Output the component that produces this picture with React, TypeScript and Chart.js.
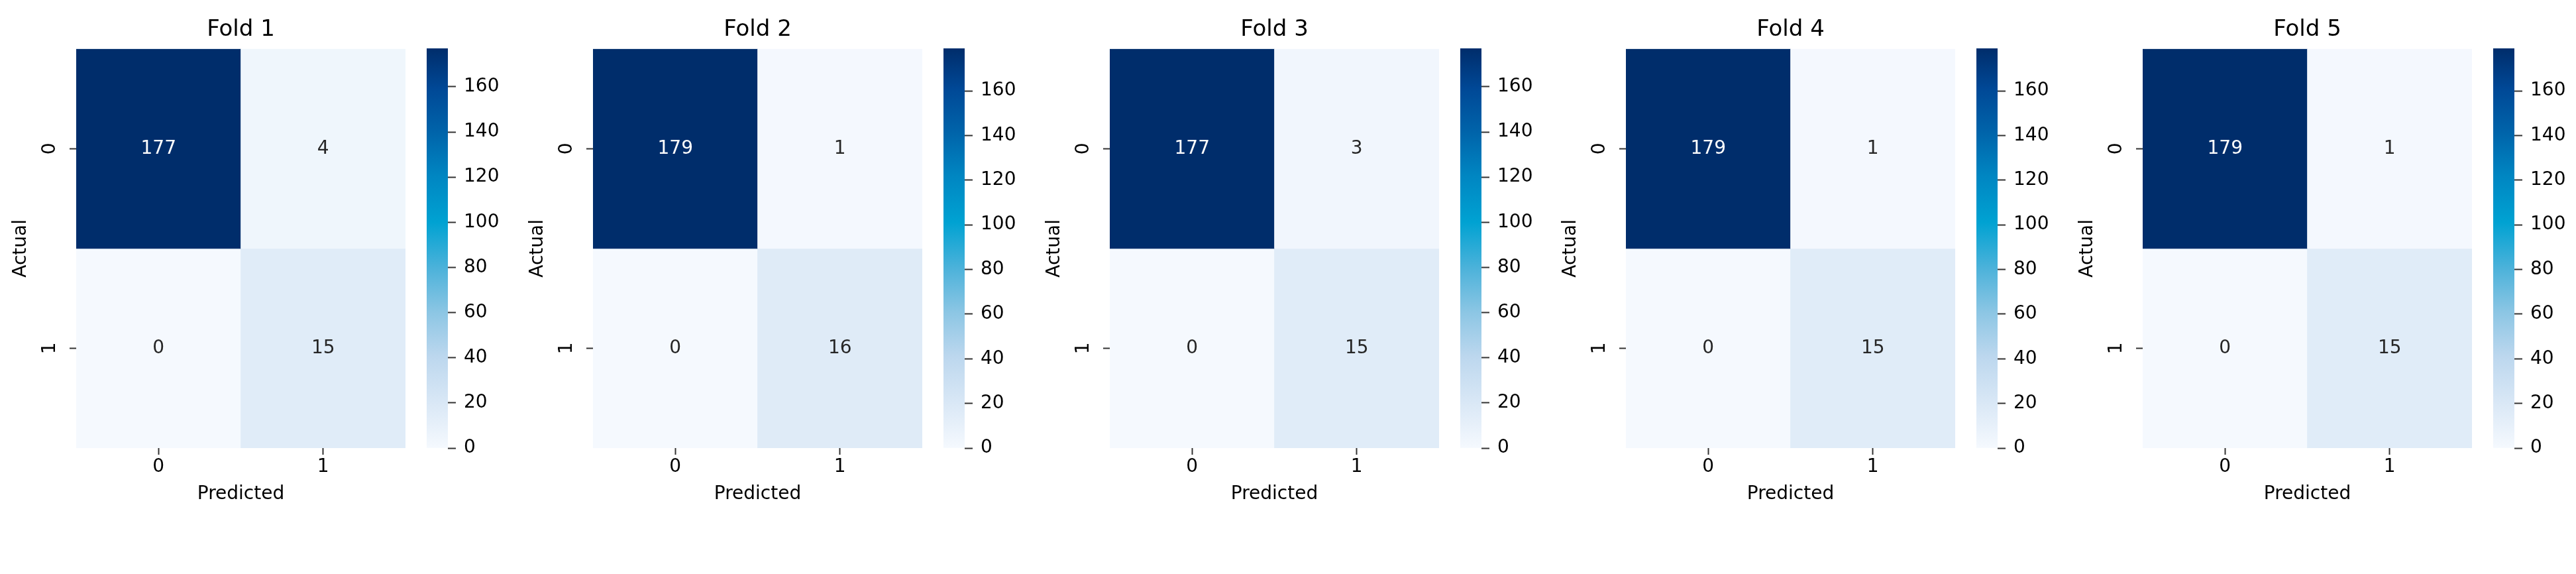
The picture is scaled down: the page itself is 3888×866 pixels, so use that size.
import React, { useEffect, useRef } from 'react';
import { Chart, registerables } from 'chart.js';

Chart.register(...registerables);

// ---------------- data ----------------
const foldTitles = ['Fold 1', 'Fold 2', 'Fold 3', 'Fold 4', 'Fold 5'];
const classLabels = ['0', '1'];
const fold1 = [[177, 4], [0, 15]];
const fold2 = [[179, 1], [0, 16]];
const fold3 = [[177, 3], [0, 15]];
const fold4 = [[179, 1], [0, 15]];
const fold5 = [[179, 1], [0, 15]];
const foldMatrices = [fold1, fold2, fold3, fold4, fold5];
const colorbarStep = 20;
const xAxisTitle = 'Predicted';
const yAxisTitle = 'Actual';

// ---------------- style ----------------
const FONT = 'DejaVu Sans';
const PANEL_DX = 779.75;
const CANVAS_H = 866;
const AREA_TOP = 73;
const AREA_BOTTOM = 676;
const TEXT = '#000000';
const TICK_COLOR = '#333333';

const cmapStops: [number, string][] = [
  [0.0, '#f5f9fe'],
  [0.11, '#dae8f6'],
  [0.23, '#bcd7ee'],
  [0.34, '#8cc6e4'],
  [0.45, '#4cb2da'],
  [0.565, '#00a2d2'],
  [0.68, '#0086c2'],
  [0.79, '#0064aa'],
  [0.9, '#004896'],
  [1.0, '#002d6b'],
];

function hexToRgb(h: string) {
  const n = parseInt(h.slice(1), 16);
  return [(n >> 16) & 255, (n >> 8) & 255, n & 255];
}

function cmap(t: number) {
  const v = Math.max(0, Math.min(1, t));
  for (let i = 1; i < cmapStops.length; i++) {
    const [p1, c1] = cmapStops[i];
    const [p0, c0] = cmapStops[i - 1];
    if (v <= p1) {
      const f = (v - p0) / (p1 - p0);
      const a = hexToRgb(c0);
      const b = hexToRgb(c1);
      const r = a.map((x, k) => Math.round(x + (b[k] - x) * f));
      return `rgb(${r[0]},${r[1]},${r[2]})`;
    }
  }
  return cmapStops[cmapStops.length - 1][1];
}

function annotatePlugin(m: number[][], vmax: number) {
  return {
    id: 'annot',
    afterDatasetsDraw(chart: any) {
      const { ctx } = chart;
      const xs = chart.scales.x;
      const ys = chart.scales.y;
      ctx.save();
      ctx.font = `28px "${FONT}"`;
      ctx.textAlign = 'center';
      ctx.textBaseline = 'middle';
      m.forEach((row, r) =>
        row.forEach((v, c) => {
          ctx.fillStyle = v / vmax > 0.6 ? '#ffffff' : '#262626';
          ctx.fillText(String(v), xs.getPixelForValue(c), ys.getPixelForValue(r + 0.5));
        })
      );
      ctx.restore();
    },
  };
}

function Panel({ index }: { index: number }) {
  const heatRef = useRef<HTMLCanvasElement>(null);
  const barRef = useRef<HTMLCanvasElement>(null);
  const m = foldMatrices[index];
  const title = foldTitles[index];

  useEffect(() => {
    const vmax = Math.max(...m.flat());
    const font28 = { family: FONT, size: 28 };

    const heat = new Chart(heatRef.current as HTMLCanvasElement, {
      type: 'bar',
      data: {
        labels: classLabels,
        datasets: m.map((row, r) => ({
          data: row.map(() => [r, r + 1]),
          backgroundColor: row.map((v) => cmap(v / vmax)),
          borderWidth: 0,
          grouped: false,
          categoryPercentage: 1,
          barPercentage: 1,
          yAxisID: 'y',
        })) as any,
      },
      options: {
        responsive: false,
        animation: false,
        devicePixelRatio: 1,
        layout: { padding: 0 },
        plugins: {
          legend: { display: false },
          tooltip: { enabled: false },
          title: {
            display: true,
            text: title,
            color: TEXT,
            font: { family: FONT, size: 34, weight: 'normal' },
            padding: { top: 25, bottom: 8 },
          },
        },
        scales: {
          x: {
            type: 'category',
            offset: true,
            grid: {
              offset: false,
              drawOnChartArea: false,
              drawTicks: true,
              tickLength: 10,
              tickWidth: 2,
              tickColor: TICK_COLOR,
            },
            border: { display: false },
            ticks: { font: font28, color: TEXT, padding: 2, minRotation: 0, maxRotation: 0 },
            title: {
              display: true,
              text: xAxisTitle,
              color: TEXT,
              font: font28,
              padding: { top: 0, bottom: 103 },
            },
            afterFit: (s: any) => {
              s.height = CANVAS_H - AREA_BOTTOM;
            },
          },
          y: {
            type: 'linear',
            min: 0,
            max: classLabels.length,
            reverse: true,
            afterBuildTicks: (s: any) => {
              s.ticks = classLabels.map((_, i) => ({ value: i + 0.5 }));
            },
            ticks: {
              callback: (v: any) => classLabels[Math.floor(Number(v))],
              minRotation: 90,
              maxRotation: 90,
              crossAlign: 'center',
              padding: 20,
              font: font28,
              color: TEXT,
            },
            grid: {
              drawOnChartArea: false,
              drawTicks: true,
              tickLength: 10,
              tickWidth: 2,
              tickColor: TICK_COLOR,
            },
            border: { display: false },
            title: {
              display: true,
              text: yAxisTitle,
              color: TEXT,
              font: font28,
              padding: { top: 15, bottom: 0 },
            },
            afterFit: (s: any) => {
              s.width = 115;
            },
          },
          yR: {
            type: 'linear',
            position: 'right',
            display: true,
            grid: { display: false },
            ticks: { display: false },
            border: { display: false },
            afterFit: (s: any) => {
              s.width = 115;
            },
          },
        } as any,
      },
      plugins: [annotatePlugin(m, vmax)],
    });

    const bar = new Chart(barRef.current as HTMLCanvasElement, {
      type: 'bar',
      data: {
        labels: [''],
        datasets: [
          {
            data: [[0, vmax]] as any,
            borderWidth: 0,
            categoryPercentage: 1,
            barPercentage: 1,
            backgroundColor: (ctx: any) => {
              const area = ctx.chart.chartArea;
              if (!area) return cmap(0.5);
              const g = ctx.chart.ctx.createLinearGradient(0, area.bottom, 0, area.top);
              cmapStops.forEach(([p, c]) => g.addColorStop(p, c));
              return g;
            },
          },
        ],
      },
      options: {
        responsive: false,
        animation: false,
        devicePixelRatio: 1,
        layout: { padding: { top: AREA_TOP, bottom: CANVAS_H - AREA_BOTTOM, left: 0, right: 0 } },
        plugins: { legend: { display: false }, tooltip: { enabled: false }, title: { display: false } },
        scales: {
          x: { display: false },
          y: {
            type: 'linear',
            position: 'right',
            min: 0,
            max: vmax,
            ticks: {
              stepSize: colorbarStep,
              includeBounds: false,
              padding: 12,
              font: font28,
              color: TEXT,
            },
            grid: {
              drawOnChartArea: false,
              drawTicks: true,
              tickLength: 12,
              tickWidth: 2,
              tickColor: TICK_COLOR,
            },
            border: { display: false },
            afterFit: (s: any) => {
              s.width = 103;
            },
          },
        } as any,
      },
    });

    return () => {
      heat.destroy();
      bar.destroy();
    };
  }, [index]);

  const left = Math.round(index * PANEL_DX);
  return (
    <>
      <canvas
        ref={heatRef}
        width={727}
        height={CANVAS_H}
        style={{ position: 'absolute', left, top: 0, width: 727, height: CANVAS_H }}
      />
      <canvas
        ref={barRef}
        width={135}
        height={CANVAS_H}
        style={{ position: 'absolute', left: left + 644, top: 0, width: 135, height: CANVAS_H }}
      />
    </>
  );
}

export default function App() {
  useEffect(() => {
    document.body.style.margin = '0';
    document.body.style.background = '#ffffff';
  }, []);
  return (
    <div
      style={{
        position: 'absolute',
        left: 0,
        top: 0,
        width: 3888,
        height: CANVAS_H,
        background: '#ffffff',
        overflow: 'hidden',
      }}
    >
      {foldTitles.map((_, i) => (
        <Panel key={i} index={i} />
      ))}
    </div>
  );
}
